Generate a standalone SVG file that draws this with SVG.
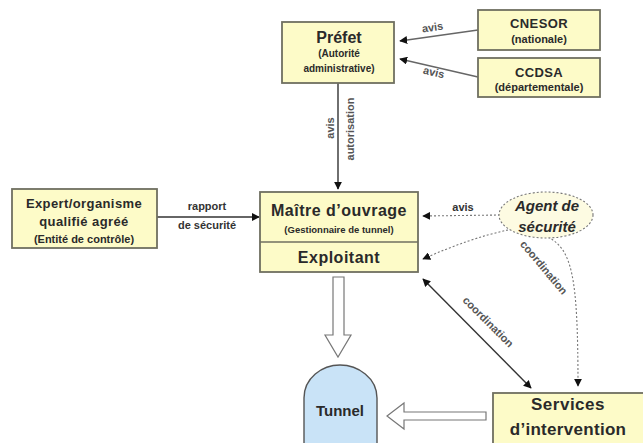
<svg xmlns="http://www.w3.org/2000/svg" width="643" height="443" viewBox="0 0 643 443">
  <style>
    text { font-family: "Liberation Sans", Arial, sans-serif; font-weight: bold; fill: #2a2a2a; text-anchor: middle; }
    .box { fill: #fdfbc8; stroke: #6f6f60; stroke-width: 1.8; }
    .t16 { font-size: 16px; }
    .t15 { font-size: 15px; }
    .t13 { font-size: 13px; letter-spacing: 0.4px; }
    .t11 { font-size: 11px; }
    .t10 { font-size: 10px; }
    .lbl { font-size: 11px; fill: #555; }
    .line { fill: none; stroke: #333; stroke-width: 1.4; }
    .dot { fill: none; stroke: #777; stroke-width: 1.1; stroke-dasharray: 2 2; }
    .hollow { fill: #ffffff; stroke: #777; stroke-width: 1.2; }
  </style>
  <defs>
    <marker id="arr" viewBox="0 0 10 10" refX="9" refY="5" markerWidth="8" markerHeight="8" orient="auto-start-reverse" markerUnits="userSpaceOnUse">
      <path d="M0,0 L10,5 L0,10 Z" fill="#111"/>
    </marker>
  </defs>

  <rect width="643" height="443" fill="#ffffff"/>

  <!-- connectors -->
  <g id="connectors">
    <!-- CNESOR / CCDSA to Préfet -->
    <line class="line" x1="478" y1="30" x2="400" y2="41" marker-end="url(#arr)" style="stroke:#666"/>
    <line class="line" x1="478" y1="77" x2="400" y2="59" marker-end="url(#arr)" style="stroke:#666"/>
    <text class="lbl" x="433" y="31" transform="rotate(-8 433 31)">avis</text>
    <text class="lbl" x="433" y="76" transform="rotate(13 433 76)">avis</text>

    <!-- Préfet to Maître d'ouvrage -->
    <line class="line" x1="338" y1="83" x2="338" y2="189" marker-end="url(#arr)"/>
    <text class="lbl" x="330" y="128" transform="rotate(-90 330 128)" dy="4">avis</text>
    <text class="lbl" x="350" y="129" transform="rotate(-90 350 129)" dy="4">autorisation</text>

    <!-- Expert to Maître d'ouvrage -->
    <line class="line" x1="157" y1="217" x2="259" y2="217" marker-end="url(#arr)"/>
    <text class="lbl" x="207" y="210" style="fill:#333">rapport</text>
    <text class="lbl" x="207" y="229" style="fill:#333">de sécurité</text>

    <!-- Agent de sécurité links -->
    <line class="dot" x1="500" y1="215" x2="423" y2="216" marker-end="url(#arr)"/>
    <text class="lbl" x="463" y="211" style="fill:#333">avis</text>
    <path class="dot" d="M508,230 Q470,238 423,259" marker-end="url(#arr)"/>
    <path class="dot" d="M548,237 C572,250 578,275 578,386" marker-end="url(#arr)"/>
    <text class="lbl" x="541" y="270" transform="rotate(50 541 270)">coordination</text>

    <!-- Maître d'ouvrage <-> Services -->
    <line class="line" x1="423" y1="279" x2="531" y2="388" marker-start="url(#arr)" marker-end="url(#arr)"/>
    <text class="lbl" x="482" y="328" transform="rotate(45 482 328)" dy="-5">coordination</text>

    <!-- hollow arrows -->
    <path class="hollow" d="M333,277 H344 V335 H351 L338,357 L325,335 H333 Z"/>
    <path class="hollow" d="M486,412 H404 V403 L387,416 L404,429 V420 H486 Z"/>
  </g>

  <g id="prefet">
    <rect class="box" x="282" y="22" width="112" height="61"/>
    <text class="t16" x="339" y="43">Préfet</text>
    <text class="t10" x="339" y="57">(Autorité</text>
    <text class="t10" x="339" y="72">administrative)</text>
  </g>

  <g id="cnesor">
    <rect class="box" x="478" y="10" width="122" height="40"/>
    <text class="t13" x="539" y="28">CNESOR</text>
    <text class="t11" x="539" y="43">(nationale)</text>
  </g>

  <g id="ccdsa">
    <rect class="box" x="478" y="58" width="122" height="39"/>
    <text class="t13" x="539" y="77">CCDSA</text>
    <text class="t11" x="539" y="91">(départementale)</text>
  </g>

  <g id="expert">
    <rect class="box" x="12" y="189" width="145" height="59"/>
    <text class="t13" x="84" y="208">Expert/organisme</text>
    <text class="t13" x="84" y="226">qualifié agréé</text>
    <text class="t11" x="84" y="243">(Entité de contrôle)</text>
  </g>

  <g id="maitre">
    <rect class="box" x="260" y="192" width="158" height="80"/>
    <line x1="260" y1="242" x2="418" y2="242" stroke="#6f6f60" stroke-width="1.5"/>
    <text class="t16" x="339" y="216" style="letter-spacing:0.5px">Maître d’ouvrage</text>
    <text x="339" y="233" style="font-size:9.5px">(Gestionnaire de tunnel)</text>
    <text class="t16" x="339" y="263" style="letter-spacing:0.5px">Exploitant</text>
  </g>

  <g id="agent">
    <ellipse cx="546" cy="215" rx="47" ry="23" fill="#fdfbe2" stroke="#777" stroke-width="1.1" stroke-dasharray="2 2"/>
    <text class="t15" x="547" y="211" style="font-style:italic">Agent de</text>
    <text class="t15" x="547" y="232" style="font-style:italic">sécurité</text>
  </g>

  <g id="tunnel">
    <path d="M304,443 V398 C304,378 322,365 340,365 C358,365 377,378 377,398 V443" fill="#c9e3f7" stroke="#555" stroke-width="1.4"/>
    <text class="t15" x="340" y="416">Tunnel</text>
  </g>

  <g id="services">
    <rect class="box" x="493" y="393" width="160" height="60"/>
    <text x="568" y="410" style="font-size:17px;letter-spacing:0.5px">Services</text>
    <text x="568" y="435" style="font-size:17px;letter-spacing:0.3px">d’intervention</text>
  </g>
</svg>
